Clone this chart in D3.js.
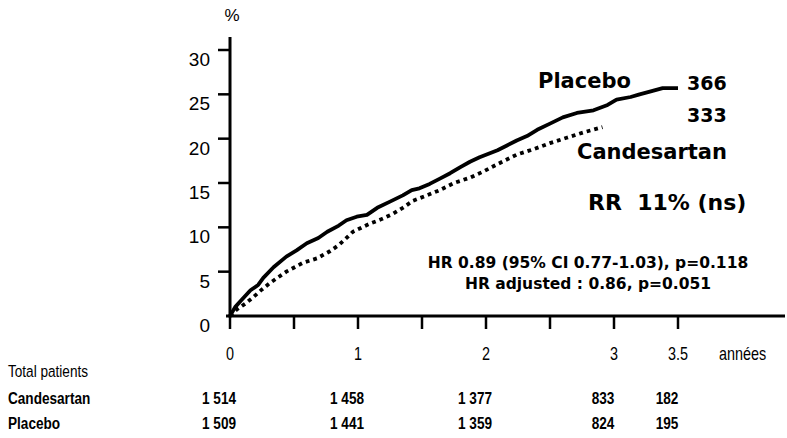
<!DOCTYPE html>
<html>
<head>
<meta charset="utf-8">
<script src="https://cdn.jsdelivr.net/npm/d3@7"></script>
<style>
  html, body { margin: 0; padding: 0; background: #fff; }
  svg { display: block; }
  .bold { font-family: "DejaVu Sans", Verdana, sans-serif; font-weight: bold; }
  .narrow { font-family: "Liberation Sans Narrow", "Arial Narrow", "Liberation Sans", Arial, sans-serif; }
</style>
</head>
<body>
<svg id="chart" width="787" height="438"></svg>
<script>
  // cumulative incidence (%)
  const placeboTime = [0, 0.04, 0.09, 0.16, 0.22, 0.26, 0.34, 0.44, 0.52, 0.6, 0.69, 0.76, 0.85, 0.91, 0.99,
    1.07, 1.15, 1.25, 1.35, 1.42, 1.48, 1.56, 1.64, 1.72, 1.8, 1.875, 1.95, 2.02, 2.09, 2.16, 2.24, 2.32,
    2.4, 2.5, 2.6, 2.71, 2.84, 2.95, 3.02, 3.13, 3.2, 3.28, 3.38, 3.5];
  const placeboValue = [0, 1.0, 1.8, 2.9, 3.5, 4.3, 5.5, 6.7, 7.4, 8.2, 8.8, 9.5, 10.2, 10.8, 11.2,
    11.4, 12.2, 12.9, 13.6, 14.2, 14.4, 14.9, 15.5, 16.1, 16.8, 17.4, 17.9, 18.3, 18.7, 19.2, 19.8, 20.3,
    21.0, 21.7, 22.4, 22.9, 23.2, 23.8, 24.4, 24.7, 25.0, 25.3, 25.7, 25.7];

  const candesartanTime = [0, 0.05, 0.12, 0.18, 0.25, 0.31, 0.38, 0.44, 0.57, 0.68, 0.78, 0.85, 0.91, 0.96,
    1.09, 1.18, 1.27, 1.35, 1.43, 1.52, 1.64, 1.75, 1.875, 1.98, 2.1, 2.24, 2.37, 2.5, 2.63, 2.76, 2.91];
  const candesartanValue = [0, 0.7, 1.4, 2.1, 3.0, 3.7, 4.4, 5.0, 6.0, 6.5, 7.3, 8.0, 8.8, 9.5,
    10.4, 10.9, 11.5, 12.2, 13.0, 13.5, 14.2, 15.0, 15.6, 16.3, 17.2, 18.2, 18.8, 19.5, 20.1, 20.7, 21.3];

  const yTicks = [0, 5, 10, 15, 20, 25, 30];
  const xTicks = [0, 0.5, 1, 1.5, 2, 2.5, 3, 3.5];
  const xTickLabels = [[0, "0"], [1, "1"], [2, "2"], [3, "3"], [3.5, "3.5"]];

  const tableTimes = [0, 1, 2, 3, 3.5];
  const candesartanAtRisk = ["1 514", "1 458", "1 377", "833", "182"];
  const placeboAtRisk = ["1 509", "1 441", "1 359", "824", "195"];

  const svg = d3.select("#chart");
  const x = d3.scaleLinear().domain([0, 3.5]).range([230, 678]);
  const y = d3.scaleLinear().domain([0, 30]).range([316, 50]);
  const squeeze = 0.8; // condensed look for the table font

  // y axis
  svg.append("line")
    .attr("x1", x(0)).attr("x2", x(0))
    .attr("y1", 37).attr("y2", y(0) + 1.5)
    .attr("stroke", "#000").attr("stroke-width", 3);
  svg.append("g").selectAll("line")
    .data(yTicks.filter((d) => d > 0))
    .join("line")
    .attr("x1", x(0) - 12).attr("x2", x(0))
    .attr("y1", (d) => y(d)).attr("y2", (d) => y(d))
    .attr("stroke", "#000").attr("stroke-width", 2.5);
  svg.append("g").selectAll("text")
    .data(yTicks)
    .join("text")
    .attr("x", 210)
    .attr("y", (d) => y(d) + 16)
    .attr("text-anchor", "end")
    .attr("font-family", "'Liberation Sans', Arial, sans-serif")
    .attr("font-size", 19)
    .text((d) => d);
  svg.append("text")
    .attr("x", 232).attr("y", 21)
    .attr("text-anchor", "middle")
    .attr("font-family", "'Liberation Sans', Arial, sans-serif")
    .attr("font-size", 17)
    .text("%");

  // x axis
  svg.append("line")
    .attr("x1", x(0) - 4).attr("x2", 785)
    .attr("y1", y(0)).attr("y2", y(0))
    .attr("stroke", "#000").attr("stroke-width", 3);
  svg.append("g").selectAll("line")
    .data(xTicks)
    .join("line")
    .attr("x1", (d) => x(d)).attr("x2", (d) => x(d))
    .attr("y1", y(0)).attr("y2", y(0) + 13)
    .attr("stroke", "#000").attr("stroke-width", 2.5);
  svg.append("g").selectAll("text")
    .data(xTickLabels)
    .join("text")
    .attr("class", "narrow")
    .attr("transform", (d) => `translate(${x(d[0])},360) scale(${squeeze},1)`)
    .attr("text-anchor", "middle")
    .attr("font-size", 18)
    .text((d) => d[1]);
  svg.append("text")
    .attr("class", "narrow")
    .attr("transform", `translate(719,360) scale(${squeeze},1)`)
    .attr("font-size", 18)
    .text("années");

  // curves
  const line = d3.line().x((d) => x(d[0])).y((d) => y(d[1]));
  svg.append("path")
    .datum(candesartanTime.map((t, i) => [t, candesartanValue[i]]))
    .attr("d", line)
    .attr("fill", "none")
    .attr("stroke", "#000")
    .attr("stroke-width", 3.8)
    .attr("stroke-dasharray", "3.8,4");
  svg.append("path")
    .datum(placeboTime.map((t, i) => [t, placeboValue[i]]))
    .attr("d", line)
    .attr("fill", "none")
    .attr("stroke", "#000")
    .attr("stroke-width", 3.8)
    .attr("stroke-linejoin", "round");

  // annotations
  const notes = [
    { text: "Placebo", x: 538, y: 88, size: 21 },
    { text: "366", x: 687, y: 90, size: 19 },
    { text: "333", x: 687, y: 122, size: 19 },
    { text: "Candesartan", x: 577, y: 159, size: 21 },
    { text: "RR  11% (ns)", x: 588, y: 210, size: 22 },
  ];
  svg.append("g").selectAll("text")
    .data(notes)
    .join("text")
    .attr("class", "bold")
    .attr("x", (d) => d.x)
    .attr("y", (d) => d.y)
    .attr("font-size", (d) => d.size)
    .style("white-space", "pre")
    .text((d) => d.text);

  const hrLines = ["HR 0.89 (95% CI 0.77-1.03), p=0.118", "HR adjusted : 0.86, p=0.051"];
  svg.append("g").selectAll("text")
    .data(hrLines)
    .join("text")
    .attr("class", "bold")
    .attr("x", 588)
    .attr("y", (d, i) => 268 + i * 21)
    .attr("text-anchor", "middle")
    .attr("font-size", 15.5)
    .text((d) => d);

  // number at risk table
  svg.append("text")
    .attr("class", "narrow")
    .attr("transform", `translate(8,377) scale(${squeeze},1)`)
    .attr("font-size", 17)
    .text("Total patients");

  const rows = [
    { label: "Candesartan", values: candesartanAtRisk, y: 404 },
    { label: "Placebo", values: placeboAtRisk, y: 429 },
  ];
  rows.forEach((row) => {
    svg.append("text")
      .attr("class", "narrow")
      .attr("transform", `translate(8,${row.y}) scale(${squeeze},1)`)
      .attr("font-size", 17)
      .attr("font-weight", "bold")
      .text(row.label);
    svg.append("g").selectAll("text")
      .data(tableTimes)
      .join("text")
      .attr("class", "narrow")
      .attr("transform", (d) => `translate(${x(d) - 11},${row.y}) scale(${squeeze},1)`)
      .attr("text-anchor", "middle")
      .attr("font-size", 17)
      .attr("font-weight", "bold")
      .text((d, i) => row.values[i]);
  });
</script>
</body>
</html>
